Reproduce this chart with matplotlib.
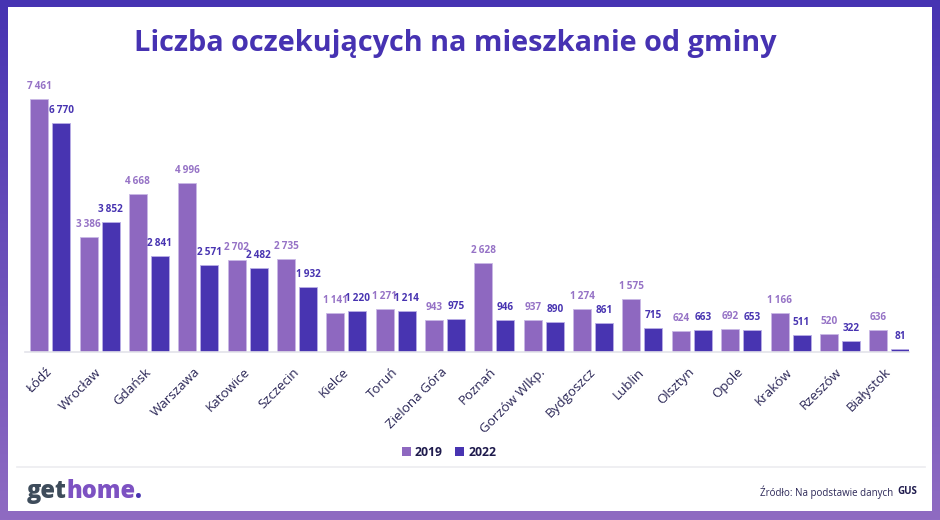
import matplotlib
matplotlib.use("Agg")
import matplotlib.pyplot as plt
import numpy as np
from matplotlib.patches import Rectangle, Patch
from matplotlib.colors import LinearSegmentedColormap

cities = ["Łódź", "Wrocław", "Gdańsk", "Warszawa", "Katowice", "Szczecin", "Kielce",
          "Toruń", "Zielona Góra", "Poznań", "Gorzów Wlkp.", "Bydgoszcz", "Lublin",
          "Olsztyn", "Opole", "Kraków", "Rzeszów", "Białystok"]
v2019 = [7461, 3386, 4668, 4996, 2702, 2735, 1141, 1271, 943, 2628, 937, 1274, 1575,
         624, 692, 1166, 520, 636]
v2022 = [6770, 3852, 2841, 2571, 2482, 1932, 1220, 1214, 975, 946, 890, 861, 715,
         663, 653, 511, 322, 81]
series_labels = ["2019", "2022"]
title = "Liczba oczekujących na mieszkanie od gminy"

C19 = "#8e68c0"
C22 = "#4834b1"
TITLE_C = "#4632b2"
DARK = "#2b2757"
FAM = ["Open Sans", "DejaVu Sans"]

W, H = 940, 520
fig = plt.figure(figsize=(W / 100, H / 100), dpi=100)

# gradient frame
bg = fig.add_axes([0, 0, 1, 1], zorder=0)
bg.set_axis_off()
cmap = LinearSegmentedColormap.from_list("g", ["#4633b2", "#8f6bc2"])
grad = np.linspace(0, 1, 256).reshape(-1, 1)
bg.imshow(grad, cmap=cmap, aspect="auto", extent=[0, 1, 0, 1], origin="upper")
bg.set_xlim(0, 1); bg.set_ylim(0, 1)
bg.add_patch(Rectangle((8 / W, 9 / H), 924 / W, 504 / H, facecolor="white",
                       edgecolor="none", transform=bg.transAxes))
bg.plot([17 / W, 925 / W], [(H - 467) / H] * 2, color="#ececf0", lw=1.2,
        transform=bg.transAxes)

# chart axes
ax = fig.add_axes([25 / W, (H - 352) / H, 884 / W, 271 / H], zorder=2)
ax.patch.set_alpha(0)
x = np.arange(len(cities))
bw = 0.365
off = 0.223
b1 = ax.bar(x - off, v2019, bw, color=C19, edgecolor="#c9b8e6", linewidth=0.6)
b2 = ax.bar(x + off, v2022, bw, color=C22, edgecolor="#b9aee6", linewidth=0.6)
ax.set_xlim(-0.51, 17.4)
ax.set_ylim(0, 8000)
for s in ["top", "right", "left"]:
    ax.spines[s].set_visible(False)
ax.spines["bottom"].set_color("#e3e3ea")
ax.spines["bottom"].set_linewidth(1.2)
ax.set_yticks([])
ax.set_xticks(x)
ax.set_xticklabels(cities, rotation=45, ha="right", va="center",
                   rotation_mode="anchor", fontsize=9.6, color=DARK,
                   family=FAM)
ax.tick_params(axis="x", length=0, pad=13)

def fmt(v):
    return f"{v:,}".replace(",", "\u2009")

for xi, v in zip(x - off, v2019):
    ax.annotate(fmt(v), (xi, v), xytext=(0, 9), textcoords="offset points",
                ha="center", va="center", fontsize=7.2, fontweight="bold",
                color="#9673c6", family=FAM)
for xi, v in zip(x + off, v2022):
    ax.annotate(fmt(v), (xi, v), xytext=(0, 9), textcoords="offset points",
                ha="center", va="center", fontsize=7.2, fontweight="bold",
                color=C22, family=FAM)

# title
fig.text(455 / W, (H - 43) / H, title, ha="center", va="center", fontsize=20.8,
         fontweight="bold", color=TITLE_C, family=FAM)

# legend
handles = [Patch(facecolor=C19, edgecolor="none"), Patch(facecolor=C22, edgecolor="none")]
leg = fig.legend(handles, series_labels, loc="center", bbox_to_anchor=(449 / W, (H - 452) / H),
                 ncol=2, frameon=False, handlelength=0.75, handleheight=0.75,
                 handletextpad=0.35, columnspacing=1.0,
                 prop={"family": FAM, "weight": "bold", "size": 8.8})
for t in leg.get_texts():
    t.set_color("#1f1b4d")

# logo
fig.canvas.draw()
r = fig.canvas.get_renderer()
xpos = 27
ybase = (H - 498) / H
for part, col in [("get", "#3e4c5b"), ("home", "#7d52c2"), (".", "#4834b1")]:
    t = fig.text(xpos / W, ybase, part, ha="left", va="baseline", fontsize=17,
                 fontweight="heavy", color=col, family=FAM)
    bb = t.get_window_extent(renderer=r)
    xpos = bb.x1 - 0.5

# source
t = fig.text(917 / W, (H - 492) / H, "GUS", ha="right", va="center", fontsize=7,
             fontweight="bold", color="#1f1b4d", family=FAM)
bb = t.get_window_extent(renderer=r)
fig.text((bb.x0 - 1) / W, (H - 492) / H, "Źródło: Na podstawie danych ", ha="right",
         va="center", fontsize=7, color="#2b2757", family=FAM)

fig.savefig("out.png", dpi=100)
